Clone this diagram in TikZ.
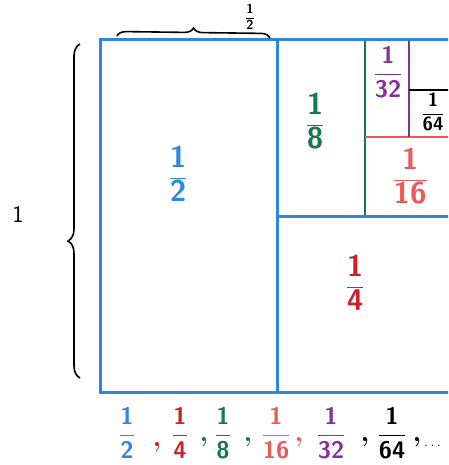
\documentclass[tikz,border=0pt]{standalone}
\usetikzlibrary{decorations.pathreplacing}
\definecolor{cblue}{RGB}{45,135,225}
\definecolor{cred}{RGB}{200,35,45}
\definecolor{cgreen}{RGB}{25,120,80}
\definecolor{csalmon}{RGB}{235,90,90}
\definecolor{cpurple}{RGB}{130,50,150}
\newcommand\hfr[2]{$\displaystyle\frac{\textsf{\bfseries #1}}{\textsf{\bfseries #2}}$}
\begin{document}
\begin{tikzpicture}[x=1pt,y=-1pt,
  box/.style={line width=3pt,draw=cblue},
  div/.style={line width=2.4pt},
  lbl/.style={inner sep=0pt},
  big/.style={font=\fontsize{30}{32}\selectfont},
  mid/.style={font=\fontsize{24}{26}\selectfont},
  small/.style={font=\fontsize{19}{21}\selectfont},
  commastyle/.style={font=\fontsize{28}{30}\selectfont\bfseries},
  brc/.style={draw=black,line width=1.6pt,decorate,decoration={brace,amplitude=9pt}}]
\useasboundingbox (0,0) rectangle (448,465);
\clip (0,0) rectangle (448,465);
% lines
\draw[div,cgreen] (365,40) -- (365,216);
\draw[div,csalmon] (365,137) -- (470,137);
\draw[div,cpurple] (409,40) -- (409,137);
\draw[div,black] (409,90) -- (470,90);
\draw[box] (100,40) rectangle (470,392);
\draw[box] (277,40) -- (277,392);
\draw[box] (277,216) -- (470,216);
% labels in boxes
\node[lbl,big,text=cblue] (h) at (178,174) {\hfr{1}{2}};
\node[lbl,big,text=cred] (q) at (355,283) {\hfr{1}{4}};
\node[lbl,big,text=cgreen] (e) at (315,121) {\hfr{1}{8}};
\node[lbl,big,text=csalmon] (s) at (410,176) {\hfr{1}{16}};
\node[lbl,mid,text=cpurple] (t) at (388,72) {\hfr{1}{32}};
\node[lbl,small,text=black] (sf) at (433,112) {\hfr{1}{64}};
% braces
\coordinate (tb1) at (117,36);
\coordinate (tb2) at (270,38);
\draw[brc] (tb1) -- (tb2);
\node[lbl,font=\fontsize{13}{14}\selectfont] (tl) at (250,17) {\hfr{1}{2}};
\coordinate (lb1) at (80,378);
\coordinate (lb2) at (80,44);
\draw[brc,decoration={brace,amplitude=12pt,aspect=0.41}] (lb1) -- (lb2);
\node[lbl,font=\fontsize{24}{26}\selectfont\sffamily] (one) at (18,214) {1};
% sequence
\node[lbl,mid,text=cblue] (a1) at (127,433) {\hfr{1}{2}};
\node[lbl,commastyle,text=cred,anchor=base] (c1) at (157,446) {,};
\node[lbl,mid,text=cred] (a2) at (180,433) {\hfr{1}{4}};
\node[lbl,commastyle,text=cgreen,anchor=base] (c2) at (204,441) {,};
\node[lbl,mid,text=cgreen] (a3) at (223,433) {\hfr{1}{8}};
\node[lbl,commastyle,text=cgreen,anchor=base] (c3) at (248,441) {,};
\node[lbl,mid,text=csalmon] (a4) at (276,433) {\hfr{1}{16}};
\node[lbl,commastyle,text=csalmon,anchor=base] (c4) at (299,441) {,};
\node[lbl,mid,text=cpurple] (a5) at (331,433) {\hfr{1}{32}};
\node[lbl,commastyle,text=black,anchor=base] (c5) at (365,441) {,};
\node[lbl,mid,text=black] (a6) at (392,433) {\hfr{1}{64}};
\node[lbl,commastyle,text=black,anchor=base] (c6) at (417,441) {,};
\node[lbl,font=\fontsize{14}{16}\selectfont,text=black,anchor=base west] (dots) at (424,446) {$\ldots$};
\end{tikzpicture}
\end{document}
